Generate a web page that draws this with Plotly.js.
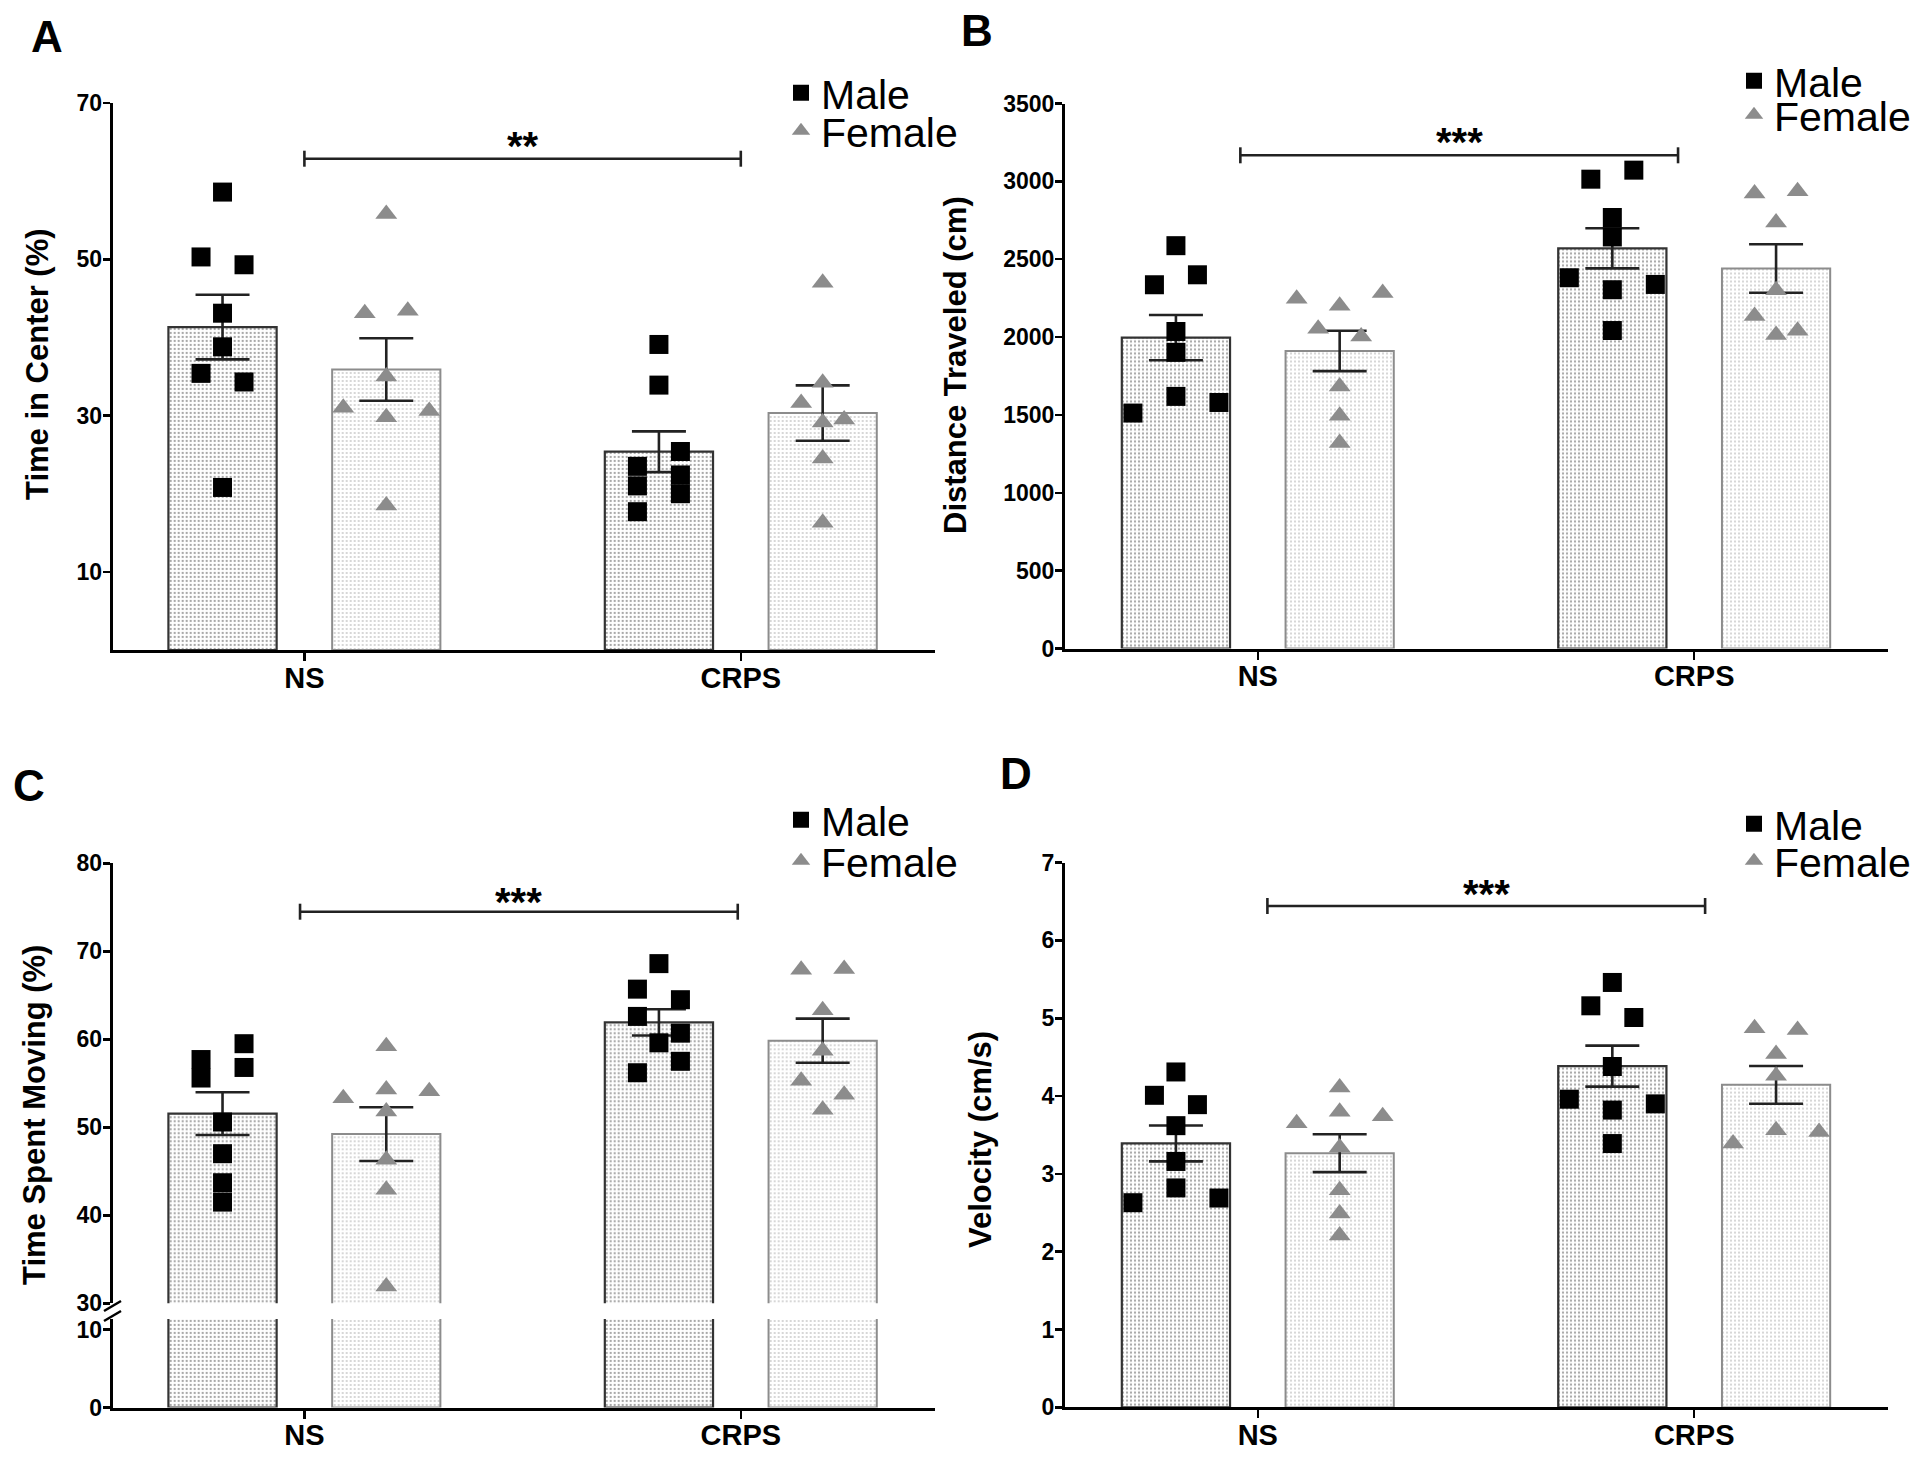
<!DOCTYPE html>
<html><head><meta charset="utf-8">
<script src="https://cdn.plot.ly/plotly-3.0.1.min.js"></script>
<style>html,body{margin:0;padding:0;background:#fff}</style>
</head><body><div id="chart" style="width:1920px;height:1458px"></div>
<script>
// ---------------- DATA ----------------
const categories = ['NS', 'CRPS'];
const seriesNames = ['Male', 'Female'];
// A: Time in Center (%)
const centerMaleNS     = [58.6, 50.3, 49.3, 43.1, 38.8, 35.4, 34.3, 20.8];
const centerFemaleNS   = [55.8, 43.1, 43.4, 35.0, 31.0, 29.8, 30.6, 18.5];
const centerMaleCRPS   = [39.1, 33.9, 23.5, 25.4, 21.0, 22.4, 17.7, 20.0];
const centerFemaleCRPS = [47.0, 34.2, 31.6, 29.5, 29.1, 24.5, 16.3];
// B: Distance Traveled (cm)
const distMaleNS     = [2587, 2336, 2400, 2036, 1902, 1512, 1619, 1580];
const distFemaleNS   = [2246, 2201, 2283, 2054, 2004, 1683, 1495, 1319];
const distMaleCRPS   = [3014, 3072, 2768, 2643, 2381, 2304, 2338, 2042];
const distFemaleCRPS = [2922, 2937, 2735, 2300, 2135, 2040, 2014];
// C: Time Spent Moving (%)
const movingMaleNS     = [57.7, 59.5, 55.6, 56.8, 50.6, 47.0, 43.7, 41.5];
const movingFemaleNS   = [59.2, 53.3, 54.3, 54.1, 51.8, 46.3, 42.9, 31.9];
const movingMaleCRPS   = [68.6, 65.7, 64.5, 62.6, 60.7, 59.6, 56.2, 57.5];
const movingFemaleCRPS = [67.9, 68.0, 63.3, 58.7, 55.3, 53.7, 52.0];
// D: Velocity (cm/s)
const velMaleNS     = [4.31, 4.01, 3.89, 3.62, 3.16, 2.63, 2.82, 2.69];
const velFemaleNS   = [4.11, 3.65, 3.80, 3.74, 3.34, 2.79, 2.49, 2.21];
const velMaleCRPS   = [5.46, 5.16, 5.01, 4.38, 3.96, 3.82, 3.90, 3.39];
const velFemaleCRPS = [4.87, 4.85, 4.54, 4.26, 3.39, 3.56, 3.54];
const yTitles = ['Time in Center (%)', 'Distance Traveled (cm)', 'Time Spent Moving (%)', 'Velocity (cm/s)'];
const sigLabels = ['**', '***', '***', '***'];
const panelLetters = ['A', 'B', 'C', 'D'];

// ---------------- LAYOUT HELPERS ----------------
const W = 1920, H = 1458;
const fx = p => p / W, fy = p => 1 - p / H;
const X_SCALE = 436.4;          // px per category step
const BAR_W = 0.248, GROUP_OFF = 0.1876;
const SLOT_PX = 43, MARKER_H_PX = 18.4;
const FONT_MAIN = '"Liberation Sans", Arial, Helvetica, sans-serif';

const mean = a => a.reduce((s, v) => s + v, 0) / a.length;
const sem = a => { const m = mean(a); return Math.sqrt(a.reduce((s, v) => s + (v - m) ** 2, 0) / (a.length - 1) / a.length); };

// column-scatter arrangement: points whose values fall within a symbol height share a row, rows are centred
function swarmPx(values, hUnits) {
  const order = values.map((v, i) => i).sort((a, b) => values[b] - values[a] || a - b);
  const off = new Array(values.length).fill(0);
  let i = 0;
  while (i < order.length) {
    const start = values[order[i]];
    let j = i;
    while (j + 1 < order.length && start - values[order[j + 1]] < hUnits) j++;
    const row = order.slice(i, j + 1).sort((a, b) => a - b);
    row.forEach((k, r) => { off[k] = (r - (row.length - 1) / 2) * SLOT_PX; });
    i = j + 1;
  }
  return off;
}

const panels = [
  { xa: 'x', ya: 'y', xDom: [112.7, 935], ns: 304.4, yDom: [103, 650], yr: [0, 70], tv: [10, 30, 50, 70],
    groups: [[centerMaleNS, centerFemaleNS], [centerMaleCRPS, centerFemaleCRPS]],
    titlePos: [37, 364], letterPos: [47, 37], leg: [781, 93, 131], br: [0, 1, 158.7], starsY: 146 },
  { xa: 'x2', ya: 'y2', xDom: [1065, 1888], ns: 1257.8, yDom: [103.5, 648.5], yr: [0, 3500], tv: [0, 500, 1000, 1500, 2000, 2500, 3000, 3500],
    groups: [[distMaleNS, distFemaleNS], [distMaleCRPS, distFemaleCRPS]],
    titlePos: [955, 365], letterPos: [977, 31], leg: [1734, 81, 115], br: [-0.04, 0.963, 155.3], starsY: 142 },
  { xa: 'x3', ya: 'y3', lowYa: 'y5', xDom: [112.7, 935], ns: 304.4, yDom: [863.3, 1303.3], yr: [30, 80], tv: [30, 40, 50, 60, 70, 80],
    lowDom: [1319, 1407.5], lowYr: [0, 11.35], lowTv: [0, 10],
    groups: [[movingMaleNS, movingFemaleNS], [movingMaleCRPS, movingFemaleCRPS]],
    titlePos: [34, 1115], letterPos: [29, 785], leg: [781, 820, 861], br: [-0.01, 0.993, 911.7], starsY: 902 },
  { xa: 'x4', ya: 'y4', xDom: [1065, 1888], ns: 1257.8, yDom: [862.6, 1407.4], yr: [0, 7], tv: [0, 1, 2, 3, 4, 5, 6, 7],
    groups: [[velMaleNS, velFemaleNS], [velMaleCRPS, velFemaleCRPS]],
    titlePos: [980, 1139], letterPos: [1016, 773], leg: [1734, 824, 861], br: [0.022, 1.025, 906], starsY: 894 }
];

const axName = id => id[0] + 'axis' + id.slice(1);
const legendId = n => n === 1 ? 'legend' : 'legend' + n;

const barStyles = [
  { color: '#f0f0f0', pattern: { shape: '.', fgcolor: '#a6a6a6', size: 4, solidity: 0.25 }, line: { color: '#333', width: 2.2 } },
  { color: '#f8f8f8', pattern: { shape: '.', fgcolor: '#cdcdcd', size: 4, solidity: 0.22 }, line: { color: '#8c8c8c', width: 2 } }
];
const pointStyles = [
  { symbol: 'square', size: 19, color: '#000' },
  { symbol: 'triangle-up', size: 19, color: '#8c8c8c' }
];

const traces = [];
const layout = {
  width: W, height: H, margin: { l: 0, r: 0, t: 0, b: 0, autoexpand: false },
  paper_bgcolor: '#fff', plot_bgcolor: 'rgba(0,0,0,0)',
  barmode: 'overlay', showlegend: true,
  annotations: [], shapes: []
};

const yAxisBase = {
  showline: true, linewidth: 3, linecolor: '#000', ticks: 'outside', ticklen: 7, tickwidth: 2.5, tickcolor: '#000',
  showgrid: false, zeroline: false, fixedrange: true, automargin: false, ticklabelstandoff: -4,
  tickfont: { family: FONT_MAIN, size: 23, color: '#000', weight: 700 }
};

panels.forEach((p, pi) => {
  const pxPerUnit = (p.yDom[1] - p.yDom[0]) / (p.yr[1] - p.yr[0]);
  const hUnits = MARKER_H_PX / pxPerUnit;
  const xr = [(p.xDom[0] - p.ns) / X_SCALE, (p.xDom[1] - p.ns) / X_SCALE];
  const bottomYa = p.lowYa || p.ya;

  layout[axName(p.xa)] = {
    domain: [fx(p.xDom[0]), fx(p.xDom[1])], range: xr, anchor: bottomYa,
    showline: true, linewidth: 3, linecolor: '#000', ticks: 'outside', ticklen: 8, tickwidth: 2.5, tickcolor: '#000',
    tickvals: categories.map((c, i) => i), ticktext: categories, ticklabelstandoff: -8,
    tickfont: { family: FONT_MAIN, size: 29, color: '#000', weight: 700 },
    showgrid: false, zeroline: false, fixedrange: true, automargin: false
  };
  layout[axName(p.ya)] = Object.assign({}, yAxisBase, {
    domain: [fy(p.yDom[1]), fy(p.yDom[0])], range: p.yr, tickvals: p.tv, anchor: p.xa
  });
  if (p.lowYa) {
    layout[axName(p.lowYa)] = Object.assign({}, yAxisBase, {
      domain: [fy(p.lowDom[1]), fy(p.lowDom[0])], range: p.lowYr, tickvals: p.lowTv, anchor: p.xa
    });
  }

  // bars (mean ± SEM)
  [0, 1].forEach(s => {
    const vals = p.groups.map(g => g[s]);
    const bar = {
      type: 'bar', xaxis: p.xa, yaxis: p.ya, x: categories.map((c, i) => i), y: vals.map(mean),
      width: BAR_W, offset: (s === 0 ? -GROUP_OFF : GROUP_OFF) - BAR_W / 2,
      marker: barStyles[s], showlegend: false, hoverinfo: 'skip',
      error_y: { type: 'data', array: vals.map(sem), visible: true, color: '#222', thickness: 2.6, width: 27 }
    };
    traces.push(bar);
    if (p.lowYa) {
      traces.push(Object.assign({}, bar, { yaxis: p.lowYa, error_y: { visible: false } }));
    }
  });
  // individual animals
  [0, 1].forEach(s => {
    const xs = [], ys = [];
    p.groups.forEach((g, ci) => {
      const vals = g[s];
      const off = swarmPx(vals, hUnits);
      vals.forEach((v, k) => {
        xs.push(ci + (s === 0 ? -GROUP_OFF : GROUP_OFF) + off[k] / X_SCALE);
        ys.push(v);
      });
    });
    traces.push({
      type: 'scatter', mode: 'markers', xaxis: p.xa, yaxis: p.ya, x: xs, y: ys, name: seriesNames[s],
      marker: { symbol: pointStyles[s].symbol, size: pointStyles[s].size, color: pointStyles[s].color, line: { width: 0 } },
      legend: legendId(pi * 2 + s + 1), cliponaxis: false, hoverinfo: 'skip'
    });
    layout[legendId(pi * 2 + s + 1)] = {
      x: fx(p.leg[0]), y: fy(p.leg[1 + s]), xanchor: 'left', yanchor: 'middle',
      bgcolor: 'rgba(0,0,0,0)', borderwidth: 0, itemwidth: 30,
      font: { family: FONT_MAIN, size: 41, color: '#000' }
    };
  });

  // significance bracket
  const yb = fy(p.br[2]), cap = 8 / H;
  const lineStyle = { color: '#222', width: 2.6 };
  layout.shapes.push({ type: 'line', xref: p.xa, yref: 'paper', x0: p.br[0], x1: p.br[1], y0: yb, y1: yb, line: lineStyle });
  layout.shapes.push({ type: 'line', xref: p.xa, yref: 'paper', x0: p.br[0], x1: p.br[0], y0: yb - cap, y1: yb + cap, line: lineStyle });
  layout.shapes.push({ type: 'line', xref: p.xa, yref: 'paper', x0: p.br[1], x1: p.br[1], y0: yb - cap, y1: yb + cap, line: lineStyle });
  layout.annotations.push({ xref: p.xa, yref: 'paper', x: (p.br[0] + p.br[1]) / 2, y: fy(p.starsY), text: sigLabels[pi],
    showarrow: false, xanchor: 'center', yanchor: 'middle', font: { family: FONT_MAIN, size: 40, color: '#000', weight: 700 } });
  // y title
  layout.annotations.push({ xref: 'paper', yref: 'paper', x: fx(p.titlePos[0]), y: fy(p.titlePos[1]), text: yTitles[pi],
    textangle: -90, showarrow: false, xanchor: 'center', yanchor: 'middle', font: { family: FONT_MAIN, size: 31, color: '#000', weight: 700 } });
  // panel letter
  layout.annotations.push({ xref: 'paper', yref: 'paper', x: fx(p.letterPos[0]), y: fy(p.letterPos[1]), text: panelLetters[pi],
    showarrow: false, xanchor: 'center', yanchor: 'middle', font: { family: FONT_MAIN, size: 44, color: '#000', weight: 700 } });
});

// axis break marks for panel C
[1306, 1316].forEach(yy => {
  layout.shapes.push({ type: 'line', xref: 'paper', yref: 'paper', x0: fx(104), x1: fx(121), y0: fy(yy + 5), y1: fy(yy - 5), line: { color: '#000', width: 2.5 } });
});

Plotly.newPlot('chart', traces, layout, { staticPlot: true });
</script>
</body></html>
